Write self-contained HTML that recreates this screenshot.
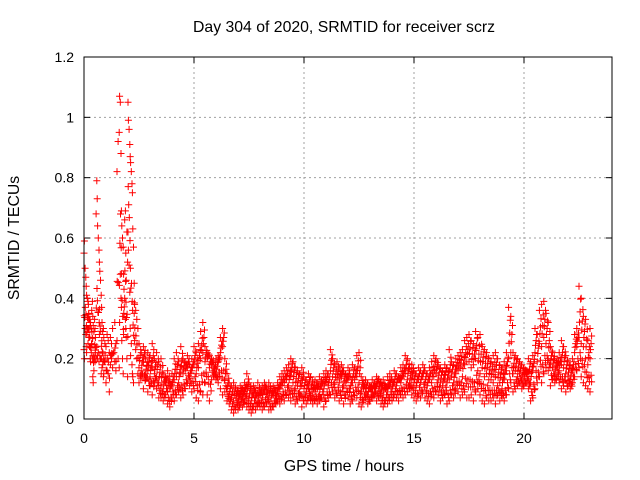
<!DOCTYPE html>
<html><head><meta charset="utf-8"><style>
html,body{margin:0;padding:0;background:#fff;}
svg{display:block;font-family:"Liberation Sans",sans-serif;}
</style></head><body>
<svg id="chart" width="640" height="480">
<text x="344" y="32" text-anchor="middle" font-size="15.8">Day 304 of 2020, SRMTID for receiver scrz</text>
<text x="344" y="471" text-anchor="middle" font-size="15.8">GPS time / hours</text>
<text transform="translate(19,238) rotate(-90)" text-anchor="middle" font-size="15.8">SRMTID / TECUs</text>
<g id="grid"></g>
<g id="ticks"></g>
<g id="pts"></g>
<rect x="84" y="57" width="528" height="362" fill="none" stroke="#000" stroke-width="1"/>
</svg>
<script>
const xTicks=[0,5,10,15,20];
const yTicks=[0,0.2,0.4,0.6,0.8,1,1.2];
const yTickLabels=["0","0.2","0.4","0.6","0.8","1","1.2"];
const headT=[0,0.02,0.05,0.08,0.1,0.12,0.15,0.18,0.2,0.22,0.25,0.28,0.3,0.33,0.35,0.38,0.4,0.42,0.45,0.48,0.5,0.52,0.55,0.58,0.6,0.62,0.65,0.68,0.7,0.72,0.75,0.78,0.8,0.82,0.85,0.88,0.9,0.95,1.0,1.05,1.1,1.15,1.2,1.25,1.3,1.35,1.4,1.45,1.5,1.55,1.6,1.62,1.65,1.68,1.7,1.72,1.75,1.78,1.8,1.82,1.85,1.88,1.9,1.92,1.95,1.98,2.0,2.02,2.05,2.08,2.1,2.12,2.15,2.18,2.2,2.22,2.25,2.28,2.3,2.35,2.4,2.45];
const headV=[.55,.59,.5,.47,.44,.41,.4,.39,.38,.35,.33,.31,.32,.3,.36,.39,.34,.31,.29,.33,.3,.27,.68,.79,.73,.64,.6,.56,.52,.49,.46,.41,.37,.32,.29,.3,.27,.25,.24,.28,.26,.22,.27,.25,.3,.22,.32,.25,.82,.92,.95,1.07,1.05,.88,.69,.64,.6,.57,.48,.43,.66,.69,.55,.46,.62,.52,1.05,.99,.96,.91,.87,.85,.82,.78,.75,.63,.57,.45,.38,.36,.33,.3];
const headW=[.23,.2,.3,.28,.24,.22,.3,.25,.33,.27,.24,.2,.19,.22,.25,.2,.14,.12,.16,.2,.19,.22,.2,.24,.21,.2,.22,.19,.28,.21,.2,.15,.2,.17,.18,.14,.15,.19,.12,.16,.15,.09,.18,.2,.17,.22,.19,.16,.26,.2,.17,.32,.48,.4,.37,.26,.2,.15,.28,.34,.4,.33,.3,.27,.2,.14,.62,.56,.51,.42,.3,.21,.25,.18,.15,.14,.12,.35,.26,.23,.2,.15];
const tailT=[2.5,2.6,2.7,2.8,2.9,3.0,3.1,3.2,3.3,3.4,3.5,3.6,3.7,3.8,3.9,4.0,4.1,4.2,4.3,4.4,4.5,4.6,4.7,4.8,4.9,5.0,5.1,5.2,5.3,5.4,5.5,5.6,5.7,5.8,5.9,6.0,6.1,6.2,6.3,6.4,6.5,6.6,6.7,6.8,6.9,7.0,7.1,7.2,7.3,7.4,7.5,7.6,7.7,7.8,7.9,8.0,8.1,8.2,8.3,8.4,8.5,8.6,8.7,8.8,8.9,9.0,9.1,9.2,9.3,9.4,9.5,9.6,9.7,9.8,9.9,10.0,10.1,10.2,10.3,10.4,10.5,10.6,10.7,10.8,10.9,11.0,11.1,11.2,11.3,11.4,11.5,11.6,11.7,11.8,11.9,12.0,12.1,12.2,12.3,12.4,12.5,12.6,12.7,12.8,12.9,13.0,13.1,13.2,13.3,13.4,13.5,13.6,13.7,13.8,13.9,14.0,14.1,14.2,14.3,14.4,14.5,14.6,14.7,14.8,14.9,15.0,15.1,15.2,15.3,15.4,15.5,15.6,15.7,15.8,15.9,16.0,16.1,16.2,16.3,16.4,16.5,16.6,16.7,16.8,16.9,17.0,17.1,17.2,17.3,17.4,17.5,17.6,17.7,17.8,17.9,18.0,18.1,18.2,18.3,18.4,18.5,18.6,18.7,18.8,18.9,19.0,19.1,19.2,19.3,19.4,19.5,19.6,19.7,19.8,19.9,20.0,20.1,20.2,20.3,20.4,20.5,20.6,20.7,20.8,20.9,21.0,21.1,21.2,21.3,21.4,21.5,21.6,21.7,21.8,21.9,22.0,22.1,22.2,22.3,22.4,22.5,22.6,22.7,22.8,22.9,23.0];
const tailA=[.25,.22,.24,.2,.22,.21,.25,.2,.22,.19,.2,.15,.14,.16,.12,.15,.2,.22,.19,.24,.2,.19,.21,.18,.2,.24,.22,.25,.29,.32,.24,.22,.21,.2,.18,.2,.21,.27,.3,.2,.15,.12,.11,.12,.1,.09,.11,.1,.12,.15,.12,.1,.11,.09,.12,.1,.11,.12,.1,.12,.1,.11,.09,.12,.14,.15,.16,.17,.18,.2,.19,.17,.16,.15,.17,.14,.13,.15,.14,.12,.13,.12,.14,.13,.15,.16,.15,.23,.2,.18,.19,.17,.18,.16,.15,.17,.14,.18,.17,.21,.22,.14,.12,.13,.12,.11,.13,.12,.14,.13,.12,.13,.11,.14,.15,.13,.16,.15,.14,.17,.18,.21,.2,.17,.18,.16,.15,.17,.16,.18,.16,.15,.17,.19,.21,.2,.18,.17,.16,.18,.17,.23,.19,.18,.2,.21,.22,.23,.26,.27,.28,.26,.25,.29,.27,.28,.24,.23,.22,.2,.19,.21,.22,.2,.18,.17,.19,.22,.37,.34,.22,.21,.2,.19,.18,.17,.16,.2,.19,.21,.3,.28,.36,.38,.39,.35,.32,.24,.22,.2,.2,.22,.26,.24,.21,.19,.18,.2,.28,.3,.44,.4,.34,.33,.26,.3];
const tailB=[.12,.14,.1,.13,.09,.11,.08,.12,.1,.07,.07,.06,.08,.05,.04,.07,.06,.08,.09,.07,.08,.1,.12,.11,.09,.1,.07,.06,.09,.08,.12,.08,.06,.13,.14,.13,.12,.1,.08,.09,.06,.05,.03,.02,.04,.03,.05,.04,.06,.04,.03,.02,.04,.03,.05,.04,.03,.04,.05,.03,.03,.04,.05,.06,.05,.07,.06,.08,.07,.06,.07,.05,.06,.07,.04,.06,.05,.07,.06,.05,.06,.05,.06,.07,.04,.06,.07,.08,.09,.07,.08,.06,.07,.05,.08,.07,.05,.06,.08,.07,.05,.04,.06,.07,.05,.06,.07,.08,.06,.07,.05,.04,.06,.05,.07,.06,.08,.07,.06,.08,.07,.08,.09,.1,.08,.07,.06,.08,.07,.09,.07,.06,.05,.08,.07,.09,.08,.06,.07,.08,.05,.06,.08,.07,.1,.09,.07,.08,.09,.07,.07,.08,.06,.09,.1,.08,.06,.05,.07,.06,.06,.07,.05,.08,.06,.07,.06,.08,.1,.12,.09,.1,.11,.12,.1,.11,.12,.1,.06,.07,.1,.12,.14,.12,.15,.17,.16,.11,.13,.12,.14,.12,.1,.11,.09,.11,.1,.12,.14,.16,.17,.14,.12,.11,.1,.09];
const tailC=[.17,.16,.19,.15,.16,.14,.17,.15,.14,.12,.11,.1,.12,.09,.1,.11,.13,.14,.12,.15,.15,.16,.17,.14,.16,.18,.15,.17,.2,.22,.19,.2,.17,.18,.16,.15,.19,.22,.24,.13,.09,.08,.07,.06,.07,.06,.08,.07,.09,.08,.07,.06,.08,.07,.06,.08,.07,.09,.08,.07,.07,.08,.07,.09,.1,.11,.12,.13,.11,.14,.12,.1,.11,.09,.11,.1,.09,.1,.08,.09,.09,.1,.08,.11,.1,.12,.11,.16,.14,.12,.13,.12,.14,.11,.12,.13,.1,.12,.13,.14,.12,.09,.1,.09,.08,.1,.09,.1,.11,.1,.09,.08,.1,.09,.11,.1,.12,.11,.13,.12,.14,.15,.13,.12,.13,.12,.11,.13,.12,.14,.12,.11,.13,.12,.14,.15,.13,.12,.11,.13,.12,.13,.14,.12,.15,.16,.17,.14,.18,.19,.19,.17,.18,.2,.16,.15,.17,.14,.15,.13,.13,.12,.14,.11,.12,.1,.13,.16,.2,.22,.15,.16,.14,.15,.13,.14,.15,.13,.12,.16,.22,.19,.25,.24,.27,.25,.2,.18,.17,.15,.17,.16,.18,.17,.15,.14,.13,.16,.22,.24,.27,.25,.24,.2,.18,.2];

const NS='http://www.w3.org/2000/svg';
const L=84,R=612,T=57,B=419;
function xs(v){return L+(v-0)/(24-0)*(R-L);}
function ys(v){return B-(v-0)/(1.2-0)*(B-T);}
const grid=document.getElementById('grid'),ticks=document.getElementById('ticks'),pts=document.getElementById('pts');
function mk(tag,attrs,parent){const e=document.createElementNS(NS,tag);for(const k in attrs)e.setAttribute(k,attrs[k]);parent.appendChild(e);return e;}
xTicks.forEach(t=>{
  const x=xs(t);
  if(t>0){const g=mk('line',{x1:x,x2:x,y1:T,y2:B,stroke:'#a0a0a0','stroke-dasharray':'2,3','stroke-width':1},grid);
  
  }
  mk('line',{x1:x,x2:x,y1:B,y2:B-6,stroke:'#000'},ticks);
  mk('line',{x1:x,x2:x,y1:T,y2:T+6,stroke:'#000'},ticks);
  const tx=mk('text',{x:x,y:B+24,'text-anchor':'middle','font-size':14},ticks);
  tx.textContent=String(t);
  
  
});
yTicks.forEach((t,i)=>{
  const y=ys(t);
  if(t>0&&t<1.2){const g=mk('line',{x1:L,x2:R,y1:y,y2:y,stroke:'#a0a0a0','stroke-dasharray':'2,3','stroke-width':1},grid);
  
  }
  mk('line',{x1:L,x2:L+6,y1:y,y2:y,stroke:'#000'},ticks);
  mk('line',{x1:R,x2:R-6,y1:y,y2:y,stroke:'#000'},ticks);
  const tx=mk('text',{x:L-10,y:y+5,'text-anchor':'end','font-size':14},ticks);
  tx.textContent=yTickLabels[i];
  
  
});
let d='';
function plus(t,v){const x=xs(t),y=ys(v);d+=`M${(x-3.5).toFixed(1)} ${y.toFixed(1)}h7M${x.toFixed(1)} ${(y-3.5).toFixed(1)}v7`;}
for(let i=0;i<headT.length;i++){plus(headT[i],headV[i]);plus(headT[i],headW[i]);plus(headT[i]+0.01,(headV[i]*0.35+headW[i]*0.65));}
for(let i=0;i<tailT.length;i++){
  plus(tailT[i],tailA[i]);plus(tailT[i],tailB[i]);plus(tailT[i],tailC[i]);
  plus(tailT[i]+0.05,(tailA[i]+tailC[i])/2);plus(tailT[i]+0.05,(tailB[i]+tailC[i])/2);
  plus(tailT[i]+0.025,(tailA[i]*0.3+tailC[i]*0.7));plus(tailT[i]+0.075,(tailB[i]*0.7+tailC[i]*0.3));
  plus(tailT[i]+0.075,(tailA[i]*0.75+tailC[i]*0.25));
}
const p=mk('path',{d:d,stroke:'#ff0000','stroke-width':1,fill:'none'},pts);


</script>
</body></html>
